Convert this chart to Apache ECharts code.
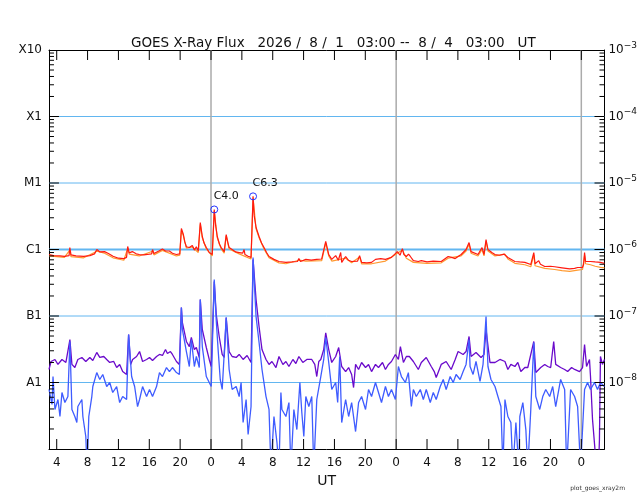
<!DOCTYPE html>
<html>
<head>
<meta charset="utf-8">
<title>GOES X-Ray Flux</title>
<script src="https://cdn.jsdelivr.net/npm/echarts@6.0.0/dist/echarts.min.js"></script>
<style>
  html, body { margin: 0; padding: 0; background: #fff; }
  #chart { width: 640px; height: 500px; }
</style>
</head>
<body>
<div id="chart"></div>
<script>
// time = hours since 2026/8/1 00:00 UT, flux in W/m^2

// long channel (1-8 A), primary
var xrsLong = [
  [3.0, 8.4e-7], [3.6, 8.1e-7], [4.4, 8.0e-7], [5.0, 7.9e-7], [5.6, 8.1e-7], [5.7, 1.07e-6], [5.85, 8.3e-7],
  [6.5, 8.0e-7], [7.5, 7.9e-7], [8.3, 8.1e-7], [8.9, 8.6e-7], [9.2, 1.0e-6], [9.6, 9.2e-7], [10.2, 9.3e-7],
  [10.7, 8.7e-7], [11.3, 7.9e-7], [12.0, 7.4e-7], [12.7, 7.3e-7], [13.05, 7.6e-7], [13.2, 1.11e-6], [13.4, 8.9e-7],
  [13.8, 9.3e-7], [14.3, 8.6e-7], [14.7, 8.4e-7], [15.3, 8.3e-7], [16.0, 8.5e-7], [16.3, 8.6e-7], [16.42, 1.0e-6],
  [16.6, 8.7e-7], [17.3, 9.6e-7], [17.7, 1.02e-6], [18.1, 9.5e-7], [18.6, 9.5e-7], [19.0, 8.8e-7], [19.5, 8.4e-7],
  [19.95, 8.6e-7], [20.16, 2.07e-6], [20.42, 1.68e-6], [20.6, 1.3e-6], [20.81, 1.1e-6], [21.0, 1.05e-6],
  [21.19, 1.07e-6], [21.58, 1.15e-6], [21.84, 9.8e-7], [22.1, 1.1e-6], [22.35, 9.5e-7], [22.61, 2.55e-6],
  [22.87, 1.57e-6], [23.1, 1.25e-6], [23.39, 1.07e-6], [23.77, 9.0e-7], [24.16, 8.4e-7], [24.42, 4.0e-6],
  [24.6, 2.3e-6], [24.81, 1.57e-6], [25.1, 1.2e-6], [25.32, 1.07e-6], [25.71, 9.3e-7], [25.97, 1.68e-6],
  [26.2, 1.25e-6], [26.35, 1.07e-6], [26.74, 1.0e-6], [27.2, 9.2e-7], [27.65, 9.0e-7], [28.1, 8.8e-7],
  [28.29, 1.0e-6], [28.4, 8.4e-7], [28.8, 7.9e-7], [29.19, 7.6e-7], [29.45, 6.3e-6], [29.6, 3.2e-6],
  [29.84, 2.14e-6], [30.23, 1.57e-6], [30.55, 1.25e-6], [30.87, 1.07e-6], [31.2, 9.0e-7], [31.52, 7.85e-7],
  [32.16, 7.1e-7], [32.81, 6.6e-7], [33.71, 6.4e-7], [34.5, 6.5e-7], [35.2, 6.6e-7], [35.39, 7.3e-7],
  [35.6, 6.6e-7], [36.29, 7.1e-7], [37.0, 6.9e-7], [37.7, 7.1e-7], [38.35, 7.2e-7], [38.87, 1.32e-6],
  [39.26, 8.4e-7], [39.65, 7.1e-7], [40.16, 8.1e-7], [40.5, 6.9e-7], [40.81, 9.0e-7], [40.94, 6.4e-7],
  [41.45, 7.85e-7], [41.8, 6.9e-7], [42.23, 6.6e-7], [43.0, 6.7e-7], [43.26, 8.1e-7], [43.52, 6.4e-7],
  [44.2, 6.3e-7], [44.81, 6.4e-7], [45.32, 7.1e-7], [46.0, 7.3e-7], [46.61, 7.1e-7], [47.39, 7.6e-7],
  [48.16, 9.3e-7], [48.5, 8.2e-7], [48.81, 1.03e-6], [49.0, 8.4e-7], [49.32, 7.85e-7], [49.6, 8.5e-7],
  [49.84, 7.85e-7], [50.23, 6.8e-7], [50.87, 6.6e-7], [51.26, 6.8e-7], [52.0, 6.5e-7], [52.8, 6.7e-7],
  [53.84, 6.6e-7], [54.74, 7.85e-7], [55.2, 7.6e-7], [55.65, 7.3e-7], [56.42, 8.4e-7], [57.06, 1.0e-6],
  [57.45, 1.27e-6], [57.71, 9.3e-7], [58.61, 8.4e-7], [59.13, 1.07e-6], [59.39, 8.4e-7], [59.65, 1.41e-6],
  [59.9, 1.0e-6], [60.4, 9.0e-7], [60.81, 8.4e-7], [61.4, 8.2e-7], [62.0, 8.5e-7], [62.1, 9.0e-7],
  [62.48, 7.6e-7], [63.39, 6.6e-7], [64.0, 6.5e-7], [64.68, 6.4e-7], [65.45, 5.95e-7], [65.7, 6.2e-7],
  [65.84, 9.0e-7], [66.0, 6.1e-7], [66.48, 6.8e-7], [66.7, 6.0e-7], [67.26, 5.55e-7], [68.0, 5.6e-7],
  [68.55, 5.5e-7], [69.5, 5.3e-7], [70.5, 5.1e-7], [71.13, 5.2e-7], [71.52, 5.36e-7], [72.16, 5.4e-7],
  [72.3, 6.0e-7], [72.42, 9.0e-7], [72.55, 6.6e-7], [73.19, 6.6e-7], [73.8, 6.5e-7], [74.48, 6.4e-7], [75.0, 6.2e-7]
];

// long channel, secondary satellite
var xrsLong2 = [
  [3.0, 8.0e-7], [5.0, 7.6e-7], [5.7, 9.8e-7], [5.85, 7.8e-7], [7.5, 7.5e-7], [9.2, 9.4e-7], [10.2, 8.8e-7],
  [11.3, 7.5e-7], [12.7, 6.9e-7], [13.2, 1.04e-6], [13.4, 8.5e-7], [14.7, 8.0e-7], [16.42, 9.4e-7], [16.6, 8.3e-7],
  [17.7, 9.7e-7], [19.5, 8.0e-7], [19.95, 8.2e-7], [20.16, 1.95e-6], [20.42, 1.6e-6], [20.81, 1.05e-6],
  [21.58, 1.09e-6], [22.35, 9.0e-7], [22.61, 2.4e-6], [22.87, 1.5e-6], [23.39, 1.02e-6], [24.16, 8.0e-7],
  [24.42, 3.8e-6], [24.81, 1.5e-6], [25.32, 1.02e-6], [25.71, 8.8e-7], [25.97, 1.6e-6], [26.35, 1.02e-6],
  [27.65, 8.6e-7], [29.19, 7.2e-7], [29.45, 6.0e-6], [29.84, 2.05e-6], [30.23, 1.5e-6], [30.87, 1.02e-6],
  [31.52, 7.5e-7], [32.81, 6.3e-7], [33.71, 6.1e-7], [35.39, 6.9e-7], [36.29, 6.7e-7], [38.35, 6.8e-7],
  [38.87, 1.25e-6], [39.26, 8.0e-7], [39.65, 6.7e-7], [41.45, 7.4e-7], [42.23, 6.3e-7], [43.26, 7.7e-7],
  [43.52, 6.1e-7], [44.81, 6.1e-7], [46.61, 6.7e-7], [48.16, 8.8e-7], [48.81, 9.8e-7], [49.32, 7.4e-7],
  [50.23, 6.4e-7], [52.0, 6.2e-7], [53.84, 6.3e-7], [54.74, 7.4e-7], [56.42, 8.0e-7], [57.06, 9.5e-7],
  [57.45, 1.2e-6], [57.71, 8.8e-7], [58.61, 8.0e-7], [59.13, 1.0e-6], [59.39, 8.0e-7], [59.65, 1.33e-6],
  [59.9, 9.5e-7], [60.81, 8.0e-7], [62.1, 8.5e-7], [62.48, 7.2e-7], [63.39, 6.2e-7], [64.68, 5.9e-7],
  [65.45, 5.5e-7], [65.84, 8.3e-7], [66.0, 5.7e-7], [67.26, 5.2e-7], [68.55, 5.0e-7], [69.5, 4.8e-7],
  [70.5, 4.7e-7], [71.52, 4.9e-7], [72.16, 5.0e-7], [72.42, 8.2e-7], [72.55, 6.1e-7], [73.19, 5.9e-7],
  [73.8, 5.6e-7], [74.48, 5.4e-7], [75.0, 5.3e-7]
];

// short channel (0.5-4 A), secondary satellite
var xrsShort2 = [
  [3.0, 1.57e-8], [3.26, 2.07e-8], [3.77, 2.22e-8], [4.16, 1.87e-8], [4.68, 2.22e-8], [5.19, 2.0e-8], [5.71, 4.43e-8],
  [5.97, 1.87e-8], [6.35, 1.68e-8], [6.74, 2.22e-8], [7.26, 2.38e-8], [7.77, 2.07e-8], [8.29, 2.38e-8], [8.68, 2.14e-8],
  [9.19, 2.83e-8], [9.58, 2.38e-8], [10.1, 2.46e-8], [10.48, 2.22e-8], [10.87, 2.0e-8], [11.39, 2.07e-8],
  [11.77, 1.68e-8], [12.16, 1.87e-8], [12.55, 1.46e-8], [13.06, 1.32e-8], [13.32, 5.27e-8], [13.58, 1.87e-8],
  [13.84, 2.22e-8], [14.35, 2.46e-8], [14.74, 2.92e-8], [15.13, 2.07e-8], [15.65, 2.22e-8], [16.03, 2.38e-8],
  [16.42, 2.14e-8], [16.94, 2.46e-8], [17.32, 2.64e-8], [17.71, 2.55e-8], [18.1, 3.13e-8], [18.35, 2.73e-8],
  [18.74, 2.92e-8], [19.0, 2.64e-8], [19.52, 2.07e-8], [19.9, 1.87e-8], [20.16, 1.34e-7], [20.29, 7.98e-8],
  [20.81, 4.14e-8], [21.19, 3.47e-8], [21.45, 4.75e-8], [21.84, 3.13e-8], [22.1, 3.36e-8], [22.48, 2.38e-8],
  [22.61, 1.77e-7], [22.87, 6.27e-8], [23.39, 3.36e-8], [23.77, 2.22e-8], [24.03, 1.74e-8], [24.16, 1.8e-8],
  [24.42, 3.3e-7], [24.68, 1.05e-7], [25.06, 4.92e-8], [25.45, 2.64e-8], [25.71, 2.38e-8], [25.97, 9.5e-8],
  [26.35, 2.92e-8], [26.74, 2.46e-8], [27.26, 2.38e-8], [27.65, 2.64e-8], [28.16, 2.22e-8], [28.68, 2.55e-8],
  [29.19, 2.0e-8], [29.45, 7.1e-7], [29.84, 1.77e-7], [30.23, 6.9e-8], [30.61, 3.13e-8], [31.13, 2.22e-8],
  [31.52, 1.87e-8], [31.9, 2.07e-8], [32.42, 1.68e-8], [32.81, 2.46e-8], [33.32, 1.87e-8], [33.71, 2.07e-8],
  [34.1, 1.74e-8], [34.61, 2.22e-8], [35.0, 1.93e-8], [35.39, 2.46e-8], [35.9, 2.0e-8], [36.42, 2.22e-8],
  [37.06, 2.22e-8], [37.45, 1.87e-8], [37.71, 1.23e-8], [37.97, 2.07e-8], [38.23, 2.22e-8], [38.61, 3.13e-8],
  [38.87, 5.6e-8], [39.26, 3.13e-8], [39.65, 2.0e-8], [40.16, 2.46e-8], [40.55, 3.36e-8], [40.94, 1.74e-8],
  [41.45, 1.46e-8], [41.84, 1.68e-8], [42.23, 1.32e-8], [42.48, 8.4e-9], [42.74, 1.87e-8], [43.13, 1.57e-8],
  [43.52, 2.0e-8], [44.03, 1.68e-8], [44.42, 1.87e-8], [44.81, 1.46e-8], [45.32, 1.87e-8], [45.71, 1.68e-8],
  [46.23, 2.0e-8], [46.61, 1.57e-8], [47.0, 1.87e-8], [47.39, 2.07e-8], [47.9, 2.64e-8], [48.29, 2.22e-8],
  [48.55, 3.47e-8], [48.94, 2.0e-8], [49.32, 2.46e-8], [49.71, 2.46e-8], [50.23, 2.07e-8], [50.87, 1.57e-8],
  [51.26, 2.0e-8], [51.9, 2.38e-8], [52.55, 1.74e-8], [52.94, 1.46e-8], [53.19, 1.19e-8], [53.84, 1.87e-8],
  [54.48, 2.07e-8], [55.13, 1.57e-8], [55.65, 2.22e-8], [56.03, 2.92e-8], [56.68, 2.64e-8], [57.06, 2.92e-8],
  [57.45, 4.92e-8], [57.71, 2.46e-8], [58.35, 2.83e-8], [59.0, 2.38e-8], [59.39, 2.64e-8], [59.65, 6.27e-8],
  [60.16, 2.0e-8], [60.81, 2.0e-8], [61.45, 2.22e-8], [62.1, 2.07e-8], [62.48, 1.57e-8], [62.87, 1.87e-8],
  [63.39, 1.74e-8], [63.77, 2.0e-8], [64.16, 1.46e-8], [64.68, 1.68e-8], [65.06, 1.68e-8], [65.84, 4.14e-8],
  [66.1, 1.41e-8], [66.74, 1.68e-8], [67.26, 1.87e-8], [67.65, 1.74e-8], [68.03, 1.68e-8], [68.42, 4.14e-8],
  [68.68, 1.87e-8], [69.32, 1.68e-8], [69.84, 1.57e-8], [70.23, 1.46e-8], [70.74, 1.68e-8], [71.13, 1.57e-8],
  [71.77, 1.46e-8], [72.16, 1.68e-8], [72.42, 3.72e-8], [72.68, 1.74e-8], [73.06, 2.22e-8], [73.19, 1.23e-8],
  [73.45, 2.8e-9], [73.71, 1.2e-9], [73.97, 5.0e-10], [74.23, 5.0e-10], [74.35, 1.4e-9], [74.48, 2.46e-8],
  [74.74, 1.87e-8], [75.0, 2.22e-8]
];

// short channel, primary
var xrsShort = [
  [3.0, 7.85e-9], [3.39, 4.67e-9], [3.52, 1.23e-8], [3.77, 3.93e-9], [4.16, 5.55e-9], [4.42, 3.08e-9], [4.68, 7.07e-9],
  [5.06, 5.0e-9], [5.45, 6.15e-9], [5.71, 4.14e-8], [5.97, 3.93e-9], [6.35, 3.08e-9], [6.61, 2.5e-9], [6.74, 4.35e-9],
  [7.26, 5.55e-9], [7.39, 3.08e-9], [7.77, 1.54e-9], [7.94, 5.0e-10], [8.16, 3.08e-9], [8.55, 6.15e-9],
  [8.68, 8.7e-9], [9.19, 1.41e-8], [9.58, 1.11e-8], [9.97, 1.32e-8], [10.48, 8.7e-9], [10.87, 1.0e-8],
  [11.26, 7.07e-9], [11.77, 8.7e-9], [12.16, 5.0e-9], [12.55, 6.15e-9], [13.06, 5.55e-9], [13.32, 5.27e-8],
  [13.71, 1.23e-8], [14.1, 8.7e-9], [14.48, 4.35e-9], [14.74, 5.55e-9], [15.13, 8.7e-9], [15.65, 6.15e-9],
  [16.03, 7.85e-9], [16.42, 6.15e-9], [16.94, 8.7e-9], [17.32, 1.41e-8], [17.71, 1.23e-8], [18.23, 1.68e-8],
  [18.61, 1.46e-8], [19.0, 1.68e-8], [19.52, 1.41e-8], [19.9, 1.32e-8], [20.16, 1.34e-7], [20.29, 6.27e-8],
  [20.81, 2.92e-8], [21.19, 1.74e-8], [21.45, 4.43e-8], [21.84, 1.74e-8], [22.1, 2.46e-8], [22.48, 1.68e-8],
  [22.61, 1.77e-7], [22.87, 3.47e-8], [23.39, 1.23e-8], [23.77, 1.0e-8], [24.03, 8.7e-9], [24.16, 9.3e-9],
  [24.42, 3.54e-7], [24.68, 8.5e-8], [24.94, 2.9e-8], [25.2, 1.1e-8], [25.45, 7.85e-9], [25.97, 9.5e-8],
  [26.35, 1.57e-8], [26.74, 7.85e-9], [27.26, 8.7e-9], [27.65, 6.15e-9], [27.9, 1.0e-8], [28.16, 2.5e-9],
  [28.55, 5.55e-9], [28.81, 1.65e-9], [29.19, 4.35e-9], [29.45, 7.6e-7], [29.84, 9.8e-8], [30.23, 4.0e-8],
  [30.61, 1.57e-8], [31.13, 6.15e-9], [31.52, 3.93e-9], [31.77, 5.0e-10], [32.16, 3.08e-9], [32.55, 1.25e-9],
  [32.81, 5.0e-10], [33.06, 7.07e-9], [33.19, 3.93e-9], [33.71, 3.08e-9], [34.1, 5.0e-9], [34.35, 5.0e-10],
  [34.74, 3.93e-9], [35.13, 1.96e-9], [35.52, 1.0e-8], [35.77, 3.54e-9], [36.03, 1.54e-9], [36.29, 6.15e-9],
  [36.68, 4.35e-9], [37.06, 6.15e-9], [37.32, 5.0e-10], [37.71, 5.55e-9], [38.23, 1.23e-8], [38.61, 2.22e-8],
  [38.87, 4.75e-8], [39.26, 2.0e-8], [39.65, 7.85e-9], [40.16, 1.0e-8], [40.42, 5.0e-9], [40.68, 2.46e-8],
  [40.94, 2.5e-9], [41.45, 5.55e-9], [41.84, 3.08e-9], [42.23, 5.0e-9], [42.74, 1.83e-9], [43.13, 5.0e-9],
  [43.52, 6.15e-9], [44.03, 3.93e-9], [44.42, 7.85e-9], [44.81, 6.15e-9], [45.32, 1.0e-8], [45.71, 7.07e-9],
  [46.1, 5.0e-9], [46.61, 8.7e-9], [47.0, 6.15e-9], [47.39, 7.85e-9], [47.9, 5.55e-9], [48.29, 1.74e-8],
  [48.68, 1.23e-8], [49.19, 1.0e-8], [49.58, 1.41e-8], [49.97, 4.35e-9], [50.23, 7.85e-9], [50.61, 6.15e-9],
  [51.13, 7.85e-9], [51.52, 5.55e-9], [51.9, 7.85e-9], [52.42, 5.0e-9], [52.81, 7.07e-9], [53.19, 5.55e-9],
  [53.71, 8.7e-9], [54.1, 1.11e-8], [54.48, 7.85e-9], [55.0, 1.23e-8], [55.39, 1.0e-8], [55.77, 1.32e-8],
  [56.29, 1.11e-8], [56.68, 1.46e-8], [57.06, 1.87e-8], [57.45, 4.43e-8], [57.58, 1.74e-8], [57.97, 1.32e-8],
  [58.35, 2.07e-8], [58.87, 1.04e-8], [59.26, 1.87e-8], [59.65, 9.8e-8], [59.9, 1.74e-8], [60.29, 1.11e-8],
  [60.81, 8.7e-9], [61.19, 6.15e-9], [61.58, 4.35e-9], [61.84, 5.0e-10], [62.1, 5.55e-9], [62.48, 3.08e-9],
  [62.87, 2.5e-9], [63.13, 5.0e-10], [63.52, 2.5e-9], [63.9, 5.0e-10], [64.03, 3.08e-9], [64.42, 5.0e-9],
  [64.81, 1.96e-9], [65.06, 5.0e-10], [65.45, 3.93e-9], [65.84, 4.0e-8], [66.1, 6.15e-9], [66.61, 3.93e-9],
  [67.0, 6.15e-9], [67.39, 7.85e-9], [67.9, 6.15e-9], [68.29, 8.7e-9], [68.68, 4.35e-9], [69.32, 1.11e-8],
  [69.84, 7.85e-9], [70.1, 5.0e-10], [70.61, 7.85e-9], [71.13, 6.15e-9], [71.52, 4.35e-9], [71.9, 5.0e-10],
  [72.42, 7.85e-9], [72.81, 1.0e-8], [73.19, 7.85e-9], [73.71, 1.0e-8], [74.1, 7.85e-9], [74.48, 1.0e-8],
  [75.0, 8.7e-9]
];

var flareTime = [24.42, 29.45];
var flareFlux = [4.0e-6, 6.3e-6];
var flareClass = ['C4.0', 'C6.3'];

var hourTicks = [4, 8, 12, 16, 20, 24, 28, 32, 36, 40, 44, 48, 52, 56, 60, 64, 68, 72];
var dayLines = [24, 48, 72];
var decadeTicks = [1e-8, 1e-7, 1e-6, 1e-5, 1e-4, 1e-3];
var decadeNames = ['A1', 'B1', 'C1', 'M1', 'X1', 'X10'];
var gridLevels = [1e-8, 1e-7, 1e-5, 1e-4];
var c1Level = 1e-6;

var FONT = 'DejaVu Sans';
var T0 = 3, T1 = 75, FMIN = 1e-9, FMAX = 1e-3;

// plot box in px, used to turn tick lengths into axis units
var GRID = { left: 49, right: 33, top: 50, bottom: 51 };
var plotW = 640 - GRID.left - GRID.right;
var plotH = 500 - GRID.top - GRID.bottom;
var hoursPerPx = (T1 - T0) / plotW;
var decadesPerPx = 6 / plotH;

var GAP = ['-', '-'];

// minor log ticks 2..9 in every decade
var minorTicks = [];
for (var e = -9; e < -3; e++) {
  for (var m = 2; m <= 9; m++) minorTicks.push(m * Math.pow(10, e));
}

function decadeIndex(v) {
  return Math.round(Math.log(v) / Math.LN10) + 8;
}

// frame ticks, drawn as broken line runs through the axes
function hourTickRuns(lenPx) {
  var f = Math.pow(10, lenPx * decadesPerPx);
  var out = [];
  hourTicks.forEach(function (h) {
    out.push([h, FMIN], [h, FMIN * f], GAP, [h, FMAX], [h, FMAX / f], GAP);
  });
  return out;
}
function fluxTickRuns(values, lenPx) {
  var d = lenPx * hoursPerPx;
  var out = [];
  values.forEach(function (v) {
    out.push([T0, v], [T0 + d, v], GAP, [T1, v], [T1 - d, v], GAP);
  });
  return out;
}
function levelRuns(values) {
  var out = [];
  values.forEach(function (v) { out.push([T0, v], [T1, v], GAP); });
  return out;
}
function dayRuns(values) {
  var out = [];
  values.forEach(function (h) { out.push([h, FMIN], [h, FMAX], GAP); });
  return out;
}

function deco(name, data, color, width) {
  return {
    name: name, type: 'line', data: data, showSymbol: false, symbol: 'none', silent: true,
    connectNulls: false, clip: false,
    lineStyle: { color: color, width: width }
  };
}

function yAxisBase(pos) {
  return {
    type: 'log', logBase: 10, min: FMIN, max: FMAX, position: pos,
    axisLine: { show: true, lineStyle: { color: '#000', width: 1 } },
    axisTick: { show: false },
    axisLabel: { show: false },
    splitLine: { show: false },
    minorTick: { show: false }
  };
}

var yLeft = yAxisBase('left');
yLeft.axisLabel = {
  show: true, customValues: decadeTicks, margin: 7, color: '#111', fontSize: 12, fontFamily: FONT,
  formatter: function (v) { return decadeNames[decadeIndex(v)] || ''; }
};
var yRight = yAxisBase('right');
yRight.axisLabel = {
  show: true, customValues: decadeTicks, margin: 4, color: '#111', fontFamily: FONT,
  formatter: function (v) {
    var e = Math.round(Math.log(v) / Math.LN10);
    return '{b|10}{s|\u2212' + (-e) + '}';
  },
  rich: {
    b: { fontSize: 12, fontFamily: FONT, color: '#111' },
    s: { fontSize: 9, fontFamily: FONT, color: '#111', padding: [0, 0, 9, 0] }
  }
};

function xAxisBase(pos) {
  return {
    type: 'value', min: T0, max: T1, position: pos,
    axisLine: { show: true, onZero: false, lineStyle: { color: '#000', width: 1 } },
    axisTick: { show: false },
    axisLabel: { show: false },
    splitLine: { show: false }
  };
}

var xBottom = xAxisBase('bottom');
xBottom.axisLabel = {
  show: true, customValues: hourTicks, margin: 8, color: '#111', fontSize: 12, fontFamily: FONT,
  formatter: function (v) { return String(v % 24); }
};
xBottom.name = 'UT';
xBottom.nameLocation = 'middle';
xBottom.nameGap = 24;
xBottom.nameTextStyle = { fontSize: 14, color: '#111', fontFamily: FONT };

var flarePoints = flareTime.map(function (t, i) {
  return { name: flareClass[i], coord: [t, flareFlux[i]] };
});

var chart = echarts.init(document.getElementById('chart'));
chart.setOption({
  animation: false,
  backgroundColor: '#fff',
  textStyle: { fontFamily: FONT },
  title: [{
    text: 'GOES X-Ray Flux   2026 /  8 /  1   03:00 --  8 /  4   03:00   UT',
    left: 126, top: 31,
    textStyle: { fontSize: 13.5, fontWeight: 'normal', color: '#111', fontFamily: FONT }
  }, {
    text: 'plot_goes_xray2m',
    right: 10, top: 480,
    textStyle: { fontSize: 6, fontWeight: 'normal', color: '#333', fontFamily: FONT }
  }],
  grid: GRID,
  xAxis: [xBottom, xAxisBase('top')],
  yAxis: [yLeft, yRight],
  series: [
    deco('levels', levelRuns(gridLevels), '#62b6f0', 1),
    deco('c1', levelRuns([c1Level]), '#62b6f0', 2),
    deco('days', dayRuns(dayLines), '#ababab', 1.5),
    {
      name: 'long2', type: 'line', data: xrsLong2, showSymbol: false, symbol: 'none',
      lineStyle: { color: '#ff9a30', width: 1.2 }
    },
    {
      name: 'long', type: 'line', data: xrsLong, showSymbol: false, symbol: 'none',
      lineStyle: { color: '#ff1a10', width: 1.2 },
      markPoint: {
        symbol: 'circle', symbolSize: 7, silent: true, animation: false,
        itemStyle: { color: 'rgba(0,0,0,0)', borderColor: '#2233ff', borderWidth: 1 },
        label: { show: true, position: 'top', distance: 4, offset: [12, 0], color: '#111', fontSize: 11, fontFamily: FONT, formatter: '{b}' },
        data: flarePoints
      }
    },
    {
      name: 'short2', type: 'line', data: xrsShort2, showSymbol: false, symbol: 'none',
      lineStyle: { color: '#6a0acb', width: 1.3 }
    },
    {
      name: 'short', type: 'line', data: xrsShort, showSymbol: false, symbol: 'none',
      lineStyle: { color: '#3f5cff', width: 1.3 }
    },
    deco('hourTicks', hourTickRuns(10), '#000', 1),
    deco('majorTicks', fluxTickRuns(decadeTicks.slice(0, 5), 10), '#000', 1),
    deco('minorTicks', fluxTickRuns(minorTicks, 5), '#000', 1)
  ]
});
</script>
</body>
</html>
